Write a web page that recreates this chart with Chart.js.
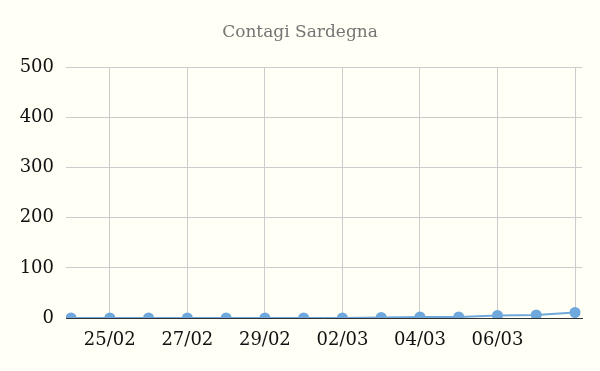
<!DOCTYPE html>
<html>
<head>
<meta charset="utf-8">
<script src="https://cdn.jsdelivr.net/npm/chart.js@4/dist/chart.umd.min.js"></script>
<style>
  html, body { margin: 0; padding: 0; background: #fffff5; }
  #wrap { width: 600px; height: 371px; }
</style>
</head>
<body>
<div id="wrap"><canvas id="chart"></canvas></div>
<script>
const dayLabels = ['24/02', '25/02', '26/02', '27/02', '28/02', '29/02', '01/03',
                   '02/03', '03/03', '04/03', '05/03', '06/03', '07/03', '08/03'];
const caseCounts = [0, 0, 0, 0, 0, 0, 0, 0, 1, 2, 2, 5, 6, 11];
const shownTicks = [1, 3, 5, 7, 9, 11, 13];
const yTicks = [0, 100, 200, 300, 400, 500];

const serif = 'Georgia, "DejaVu Serif", "Liberation Serif", serif';

new Chart(document.getElementById('chart'), {
    type: 'line',
    data: {
        datasets: [{
            label: 'Contagi',
            data: caseCounts.map((v, i) => ({ x: i, y: v })),
            borderColor: '#6fa8dc',
            backgroundColor: '#6fa8dc',
            borderWidth: 2,
            pointRadius: 4.5,
            pointHoverRadius: 5,
            tension: 0
        }]
    },
    options: {
        responsive: true,
        maintainAspectRatio: false,
        animation: false,
        layout: { padding: 0 },
        plugins: {
            legend: { display: false },
            tooltip: { enabled: false },
            title: {
                display: true,
                text: 'Contagi Sardegna',
                color: '#757575',
                font: { family: serif, size: 17, weight: 'normal' },
                padding: { top: 22, bottom: 25 }
            }
        },
        scales: {
            x: {
                type: 'linear',
                min: -0.13,
                max: 13.18,
                afterBuildTicks: (axis) => { axis.ticks = shownTicks.map(v => ({ value: v })); },
                afterFit: (axis) => { axis.height = 53; },
                ticks: {
                    autoSkip: false,
                    maxRotation: 0,
                    color: '#111',
                    padding: 12,
                    font: { family: serif, size: 18 },
                    callback: (v) => (v === 13 ? '' : dayLabels[v])
                },
                grid: { color: '#cccccc', drawTicks: false, lineWidth: 1 },
                border: { display: true, color: '#333333', width: 1 }
            },
            y: {
                min: 0,
                max: 500,
                afterBuildTicks: (axis) => { axis.ticks = yTicks.map(v => ({ value: v })); },
                afterFit: (axis) => { axis.width = 66; },
                ticks: {
                    color: '#111',
                    padding: 12,
                    font: { family: serif, size: 18 }
                },
                grid: { color: '#cccccc', drawTicks: false, lineWidth: 1 },
                border: { display: false }
            },
            // empty right-hand axis that only reserves the right margin
            yRight: {
                position: 'right',
                min: 0,
                max: 500,
                afterFit: (axis) => { axis.width = 18; },
                ticks: { display: false },
                grid: { display: false },
                border: { display: false }
            }
        }
    }
});
</script>
</body>
</html>
